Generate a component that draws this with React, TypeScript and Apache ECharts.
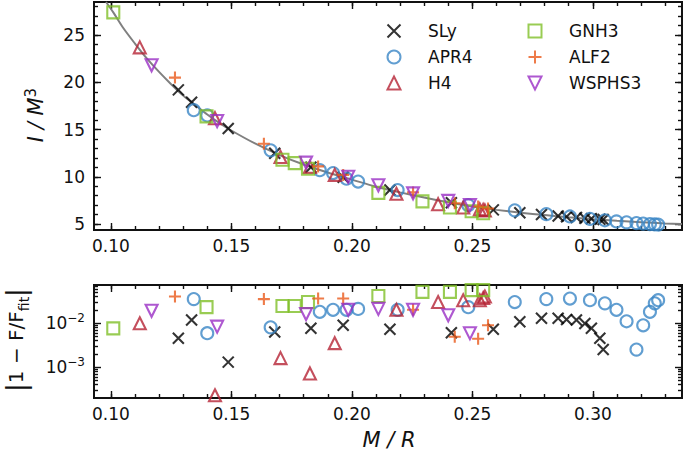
import React, { useEffect, useRef } from "react";
import * as echarts from "echarts";

// ---- axis ticks ----
const xTickLabels = [0.1, 0.15, 0.2, 0.25, 0.3];
const xMinorTicks = [0.1, 0.11, 0.12, 0.13, 0.14, 0.15, 0.16, 0.17, 0.18, 0.19, 0.2, 0.21, 0.22, 0.23, 0.24, 0.25, 0.26, 0.27, 0.28, 0.29, 0.3, 0.31, 0.32, 0.33];
const iTickLabels = [5, 10, 15, 20, 25];
const iMinorTicks = [5, 6, 7, 8, 9, 10, 11, 12, 13, 14, 15, 16, 17, 18, 19, 20, 21, 22, 23, 24, 25, 26, 27, 28];
const errTickLabels = [0.001, 0.01];
const errMinorTicks = [0.0003, 0.0004, 0.0005, 0.0006, 0.0007, 0.0008, 0.0009, 0.002, 0.003, 0.004, 0.005, 0.006, 0.007, 0.008, 0.009, 0.02, 0.03, 0.04, 0.05, 0.06, 0.07];

// ---- fit curve ----
const fitX = [0.098, 0.101, 0.105, 0.11, 0.115, 0.12, 0.125, 0.13, 0.135, 0.14, 0.145, 0.15, 0.16, 0.17, 0.18, 0.19, 0.2, 0.21, 0.22, 0.23, 0.24, 0.25, 0.26, 0.27, 0.28, 0.29, 0.3, 0.31, 0.32, 0.33, 0.337];
const fitI = [28.5, 27.4, 25.8, 24.1, 22.5, 21.1, 19.8, 18.6, 17.6, 16.6, 15.7, 14.9, 13.5, 12.3, 11.3, 10.45, 9.7, 8.95, 8.35, 7.8, 7.3, 6.85, 6.5, 6.2, 5.95, 5.72, 5.52, 5.35, 5.2, 5.07, 5.0];

// ---- EOS data ----
const slyX = [0.128, 0.1335, 0.1487, 0.168, 0.183, 0.1964, 0.2158, 0.2413, 0.2587, 0.2697, 0.2787, 0.2856, 0.2891, 0.2932, 0.2967, 0.2994, 0.3029, 0.3043];
const slyI = [19.2, 17.9, 15.1, 12.5, 11.0, 9.95, 8.6, 7.25, 6.5, 6.2, 6.0, 5.85, 5.78, 5.7, 5.62, 5.57, 5.5, 5.47];
const slyErr = [0.0045, 0.0117, 0.0013, 0.0063, 0.0076, 0.0089, 0.0072, 0.006, 0.0072, 0.0107, 0.0129, 0.0129, 0.0121, 0.0117, 0.0098, 0.0076, 0.0045, 0.0025];

const apr4X = [0.1344, 0.14, 0.1663, 0.1867, 0.1922, 0.1978, 0.2026, 0.219, 0.2483, 0.2676, 0.2807, 0.2905, 0.2988, 0.305, 0.3098, 0.314, 0.3181, 0.3209, 0.3237, 0.3257, 0.3271];
const apr4I = [17.05, 16.5, 12.8, 10.7, 10.4, 9.8, 9.5, 8.6, 7.0, 6.45, 6.05, 5.8, 5.55, 5.4, 5.28, 5.18, 5.1, 5.05, 5.0, 4.97, 4.95];
const apr4Err = [0.035, 0.0059, 0.008, 0.018, 0.02, 0.02, 0.021, 0.02, 0.023, 0.03, 0.035, 0.036, 0.033, 0.028, 0.02, 0.011, 0.0025, 0.0089, 0.018, 0.028, 0.033];

const h4X = [0.112, 0.1432, 0.1704, 0.1826, 0.1929, 0.2185, 0.2358, 0.2462, 0.2531, 0.2545, 0.2552];
const h4I = [23.7, 16.2, 12.1, 11.05, 10.2, 8.2, 7.1, 6.75, 6.55, 6.5, 6.45];
const h4Err = [0.0099, 0.00023, 0.0016, 0.00072, 0.0035, 0.02, 0.03, 0.033, 0.033, 0.037, 0.04];

const gnh3X = [0.101, 0.1397, 0.1712, 0.1763, 0.1818, 0.211, 0.2293, 0.2407, 0.2497, 0.2545];
const gnh3I = [27.4, 16.4, 11.8, 11.45, 10.85, 8.3, 7.4, 6.75, 6.35, 6.15];
const gnh3Err = [0.0076, 0.023, 0.0245, 0.0245, 0.03, 0.041, 0.051, 0.051, 0.056, 0.056];

const alf2X = [0.1266, 0.1635, 0.186, 0.1964, 0.2254, 0.2427, 0.2524, 0.2565];
const alf2I = [20.5, 13.5, 11.1, 10.2, 8.35, 7.2, 6.85, 6.65];
const alf2Err = [0.04, 0.035, 0.036, 0.036, 0.02, 0.0049, 0.0044, 0.0089];

const wsX = [0.1169, 0.1441, 0.181, 0.1985, 0.211, 0.2254, 0.24, 0.249];
const wsI = [21.8, 15.9, 11.5, 10.0, 9.1, 8.25, 7.45, 7.0];
const wsErr = [0.019, 0.0083, 0.016, 0.02, 0.021, 0.02, 0.015, 0.0059];

const FONT = "DejaVu Sans";
const INK = "#111111";

const CROSS = "path://M0,0L10,10M10,0L0,10";
const PLUS = "path://M5,0L5,10M0,5L10,5";
const UP_TRI = "path://M5,0L10,10L0,10Z";
const DOWN_TRI = "path://M0,0L10,0L5,10Z";
const SQUARE = "path://M0,0L10,0L10,10L0,10Z";

const eos = [
  { name: "SLy", x: slyX, I: slyI, err: slyErr, symbol: CROSS, color: "#000000", size: 11 },
  { name: "APR4", x: apr4X, I: apr4I, err: apr4Err, symbol: "circle", color: "#3a86c6", size: 12 },
  { name: "H4", x: h4X, I: h4I, err: h4Err, symbol: UP_TRI, color: "#b52335", size: 12 },
  { name: "GNH3", x: gnh3X, I: gnh3I, err: gnh3Err, symbol: SQUARE, color: "#80bf28", size: 12 },
  { name: "ALF2", x: alf2X, I: alf2I, err: alf2Err, symbol: PLUS, color: "#ea5a1c", size: 12 },
  { name: "WSPHS3", x: wsX, I: wsI, err: wsErr, symbol: DOWN_TRI, color: "#9a2ec4", size: 12 },
];

const X_MIN = 0.093;
const X_MAX = 0.337;
const LOG_MIN = -3.7;
const LOG_MAX = -1.136;
const lg = (v: number) => Math.log10(v);

function tickAxis(kind: "x" | "y", grid: number, position: string, values: number[], len: number, extra: any = {}) {
  const base: any = {
    type: "value",
    gridIndex: grid,
    position,
    axisLine: { show: true, onZero: false, lineStyle: { color: INK, width: 1.8 } },
    axisTick: { show: true, inside: true, length: len, customValues: values, lineStyle: { color: INK, width: 1.4 } },
    axisLabel: { show: false },
    splitLine: { show: false },
    minorTick: { show: false },
  };
  if (kind === "x") {
    base.min = X_MIN;
    base.max = X_MAX;
  }
  return { ...base, ...extra };
}

export default function App() {
  const ref = useRef<HTMLDivElement>(null);
  useEffect(() => {
    if (!ref.current) return;
    const chart = echarts.init(ref.current, undefined, { renderer: "svg" });

    const xLabel = {
      show: true,
      customValues: xTickLabels,
      formatter: (v: number) => v.toFixed(2),
      fontSize: 17,
      fontFamily: FONT,
      color: INK,
      margin: 7,
    };

    const xAxes: any[] = [];
    const yAxes: any[] = [];
    for (let g = 0; g < 2; g++) {
      xAxes.push(tickAxis("x", g, "bottom", xTickLabels, 7, { axisLabel: xLabel }));
      xAxes.push(tickAxis("x", g, "bottom", xMinorTicks, 4));
      xAxes.push(tickAxis("x", g, "top", xTickLabels, 7));
      xAxes.push(tickAxis("x", g, "top", xMinorTicks, 4));
    }
    const yTop = { min: 4.37, max: 28.5 };
    yAxes.push(
      tickAxis("y", 0, "left", iTickLabels, 7, {
        ...yTop,
        axisLabel: { show: true, customValues: iTickLabels, fontSize: 17, fontFamily: FONT, color: INK, margin: 9 },
      })
    );
    yAxes.push(tickAxis("y", 0, "left", iMinorTicks, 4, yTop));
    yAxes.push(tickAxis("y", 0, "right", iTickLabels, 7, yTop));
    yAxes.push(tickAxis("y", 0, "right", iMinorTicks, 4, yTop));
    const yBot = { min: LOG_MIN, max: LOG_MAX };
    const errMajor = errTickLabels.map(lg);
    const errMinor = errMinorTicks.map(lg);
    yAxes.push(
      tickAxis("y", 1, "left", errMajor, 7, {
        ...yBot,
        axisLabel: {
          show: true,
          customValues: errMajor,
          formatter: (v: number) => `{b|10}{s|−${Math.round(Math.abs(v))}}`,
          margin: 9,
          rich: {
            b: { fontSize: 17, fontFamily: FONT, color: INK, lineHeight: 22, verticalAlign: "middle" },
            s: { fontSize: 12, fontFamily: FONT, color: INK, lineHeight: 10, verticalAlign: "top" },
          },
        },
      })
    );
    yAxes.push(tickAxis("y", 1, "left", errMinor, 4, yBot));
    yAxes.push(tickAxis("y", 1, "right", errMajor, 7, yBot));
    yAxes.push(tickAxis("y", 1, "right", errMinor, 4, yBot));

    const series: any[] = [
      {
        type: "line",
        name: "fit",
        xAxisIndex: 0,
        yAxisIndex: 0,
        data: fitX.map((x, i) => [x, fitI[i]]),
        showSymbol: false,
        smooth: 0.3,
        lineStyle: { color: "#808080", width: 2 },
        z: 1,
        silent: true,
      },
    ];
    eos.forEach((e, k) => {
      const common = {
        type: "scatter",
        name: e.name,
        symbol: e.symbol,
        symbolSize: e.size,
        itemStyle: { color: "none", borderColor: e.color, borderWidth: 2.1 },
        z: 2 + k,
      };
      series.push({ ...common, xAxisIndex: 0, yAxisIndex: 0, data: e.x.map((x, i) => [x, e.I[i]]) });
      series.push({ ...common, xAxisIndex: 4, yAxisIndex: 4, data: e.x.map((x, i) => [x, lg(e.err[i])]) });
    });

    const legendCommon = {
      orient: "vertical",
      top: 17,
      itemWidth: 58,
      itemHeight: 13,
      itemGap: 8,
      textStyle: { fontSize: 17, fontFamily: FONT, color: INK, lineHeight: 18 },
      selectedMode: false,
    };

    chart.setOption({
      animation: false,
      backgroundColor: "#ffffff",
      textStyle: { fontFamily: FONT },
      grid: [
        { left: 94, right: 3, top: 2, height: 228 },
        { left: 94, right: 3, top: 285, height: 113 },
      ],
      xAxis: xAxes,
      yAxis: yAxes,
      legend: [
        { ...legendCommon, left: 380, data: ["SLy", "APR4", "H4"] },
        { ...legendCommon, left: 521, data: ["GNH3", "ALF2", "WSPHS3"] },
      ],
      graphic: [
        {
          type: "text",
          x: 36,
          y: 115,
          rotation: Math.PI / 2,
          style: {
            text: "{i|I / M}{s|3}",
            align: "center",
            verticalAlign: "middle",
            rich: {
              i: { fontSize: 21, fontStyle: "italic", fontFamily: FONT, fill: INK, lineHeight: 26, verticalAlign: "middle" },
              s: { fontSize: 15, fontFamily: FONT, fill: INK, lineHeight: 12, verticalAlign: "top" },
            },
          },
        },
        {
          type: "text",
          x: 16,
          y: 340,
          rotation: Math.PI / 2,
          style: {
            text: "{p||}{n|1 − F/F}{u|fit}{p||}",
            align: "center",
            verticalAlign: "middle",
            rich: {
              p: { fontSize: 26, fontFamily: FONT, fill: INK, lineHeight: 30, verticalAlign: "middle" },
              n: { fontSize: 20, fontFamily: FONT, fill: INK, lineHeight: 30, verticalAlign: "middle" },
              u: { fontSize: 14, fontFamily: FONT, fill: INK, lineHeight: 16, verticalAlign: "bottom" },
            },
          },
        },
        {
          type: "text",
          x: 389,
          y: 440,
          style: {
            text: "M / R",
            align: "center",
            verticalAlign: "middle",
            fontSize: 21,
            fontStyle: "italic",
            fontFamily: FONT,
            fill: INK,
          },
        },
      ],
      series,
    });
    return () => chart.dispose();
  }, []);
  return <div ref={ref} style={{ position: "fixed", left: 0, top: 0, width: 685, height: 457, background: "#fff" }} />;
}
